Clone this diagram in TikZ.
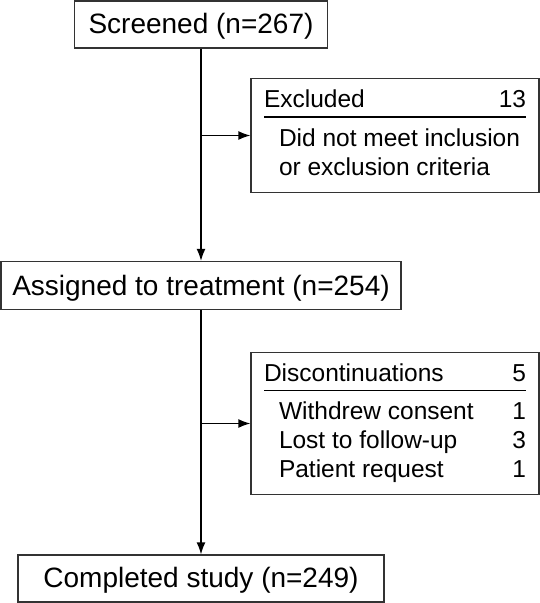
\documentclass[tikz,border=0pt]{standalone}
\usepackage{fontspec}
\setmainfont{Liberation Sans}
\usepackage{array}
\usetikzlibrary{arrows.meta}

\setlength{\arrayrulewidth}{1.5pt}

\begin{document}
\begin{tikzpicture}[->,>={Latex[length=12pt,width=9pt]},line width=1.3pt,x=1pt,y=1pt,
  font=\fontsize{24.5}{29}\selectfont,
  mainbox/.style={draw=black!80,rectangle,inner xsep=0pt,inner ysep=7.5pt,
    text height=25pt,text depth=7pt,font=\fontsize{28}{33}\selectfont},
  sidebox/.style={draw=black!80,rectangle,inner xsep=13pt,inner ysep=8.5pt}]
  \useasboundingbox (0,0) rectangle (540,-603);
  \node[mainbox,minimum width=253pt] (scr) at (201,-24.5) {Screened (n=267)};
  \node[sidebox] (exc) at (395,-135.5) {%
    \begin{tabular*}{262pt}{@{}l@{\extracolsep{\fill}}r@{}}
      Excluded & 13\\ \hline \noalign{\vskip 8pt}
      \multicolumn{2}{@{\hspace{15pt}}l@{}}{Did not meet inclusion}\\
      \multicolumn{2}{@{\hspace{15pt}}l@{}}{or exclusion criteria}
    \end{tabular*}};
  \node[mainbox,minimum width=400pt,text height=26pt] (asg) at (201,-285.5) {Assigned to treatment (n=254)};
  \node[sidebox] (dis) at (395,-423.5) {%
    \begin{tabular*}{262pt}{@{}l@{\extracolsep{\fill}}r@{}}
      Discontinuations & 5\\ \hline \noalign{\vskip 8pt}
      \hspace{15pt}Withdrew consent & 1\\
      \hspace{15pt}Lost to follow-up & 3\\
      \hspace{15pt}Patient request & 1
    \end{tabular*}};
  \node[mainbox,minimum width=366pt] (cmp) at (201,-578.5) {Completed study (n=249)};
  \path (scr) edge (asg)
  (asg) edge (cmp)
  (scr.south |- exc.west) edge (exc.west)
  (asg.south |- dis.west) edge (dis.west);
\end{tikzpicture}
\end{document}
